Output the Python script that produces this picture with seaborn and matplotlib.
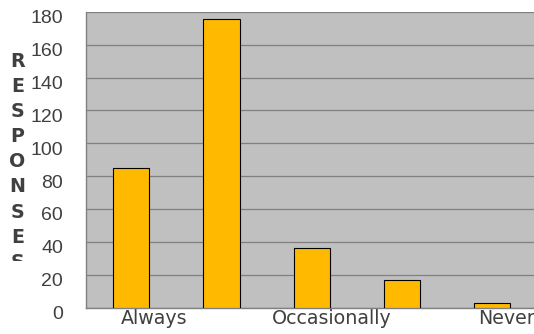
import matplotlib
matplotlib.use("Agg")
import matplotlib.pyplot as plt
import seaborn as sns
import pandas as pd
from matplotlib.transforms import ScaledTranslation, Bbox, TransformedBbox

# Survey responses for each of the five answer scale points
scale_points = [1, 2, 3, 4, 5]
responses = [85, 176, 36, 17, 3]
tick_labels = ["Always", "Occasionally", "Never"]
tick_positions = [0.25, 2.22, 4.16]
y_ticks = list(range(0, 181, 20))
axis_title = "RESPONSES"

sns.set_style("white")
plt.rcParams["font.family"] = ["DejaVu Sans"]

W, H = 534, 334
fig = plt.figure(figsize=(W / 100, H / 100), dpi=100)
ax = fig.add_axes([86 / W, 1 - 307.5 / H, 451.5 / W, 295.5 / H])

df = pd.DataFrame({"point": scale_points, "responses": responses})
sns.barplot(data=df, x="point", y="responses", color="#FFBA00", saturation=1,
            edgecolor="black", linewidth=0.8, width=0.4, ax=ax, zorder=3)

ax.set_facecolor("#C0C0C0")
ax.set_xlim(-0.5, 4.5)
ax.set_ylim(0, 180)
ax.set_yticks(y_ticks)
ax.yaxis.grid(True, color="#808080", lw=0.9)
ax.xaxis.grid(False)
ax.set_axisbelow(True)
ax.set_xlabel("")
ax.set_ylabel("")

for side in ("top", "right"):
    ax.spines[side].set_visible(False)
for side in ("left", "bottom"):
    ax.spines[side].set_color("#808080")
    ax.spines[side].set_linewidth(1.0)

txt = "#404040"
ax.set_xticks(tick_positions, tick_labels)
ax.set_xticks([0.5, 1.5, 2.5, 3.5], minor=True)
ax.tick_params(axis="x", which="major", length=0, pad=1, labelsize=13.7, labelcolor=txt)
ax.tick_params(axis="x", which="minor", length=3.5, width=0.8, color="#808080", direction="out")
ax.tick_params(axis="y", length=0, pad=16.5, labelsize=14, labelcolor=txt)

# numbers sit slightly below their gridlines, in a narrower face
shift = ScaledTranslation(0, -0.05, fig.dpi_scale_trans)
for lbl in ax.get_yticklabels():
    lbl.set_transform(lbl.get_transform() + shift)
    lbl.set_fontfamily(["Liberation Sans", "DejaVu Sans"])

# stacked axis title, cut off at the bottom of its text box
clip = TransformedBbox(Bbox([[0, (H - 260.5) / H], [1, 1]]), fig.transFigure)
for i, ch in enumerate(axis_title):
    t = fig.text(17.5 / W, 1 - (67 + 25.1 * i) / H, ch, ha="center", va="baseline",
                 fontsize=13.7, fontweight="bold", color=txt)
    t.set_clip_box(clip)
    t.set_clip_on(True)

fig.savefig("out.png", dpi=100)
